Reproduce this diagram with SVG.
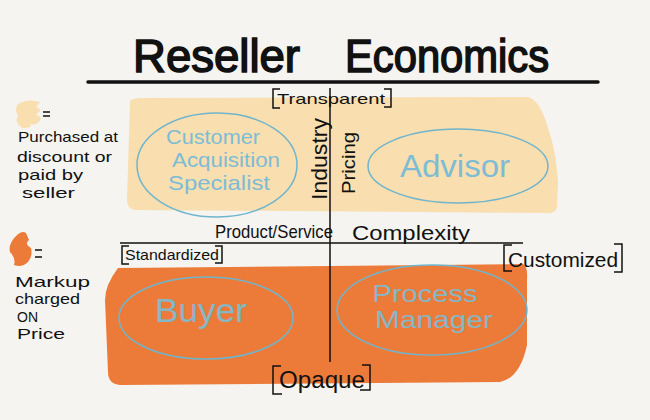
<svg xmlns="http://www.w3.org/2000/svg" width="650" height="420" viewBox="0 0 650 420">
<style>
text{font-family:"Liberation Sans","DejaVu Sans",sans-serif;fill:#111;}
.t{font-size:46px;stroke:#111;stroke-width:1.6;}
.lg{font-size:15px;}
.lbl{font-size:15px;}
.node{fill:none;stroke:#6fb5cd;stroke-width:1.5;}
.nt{fill:#7dbcd5;}
.nto{fill:#86b7c6;}
.br{fill:none;stroke:#111;stroke-width:1.5;}
.ax{fill:none;stroke:#111;stroke-width:1.5;}
</style>
<rect width="650" height="420" fill="#f5f4f0"/>
<g id="title">
<text class="t" x="133" y="72" textLength="167" lengthAdjust="spacingAndGlyphs">Reseller</text>
<text class="t" x="345" y="72" textLength="204" lengthAdjust="spacingAndGlyphs">Economics</text>
<line x1="88" y1="82" x2="598" y2="82" stroke="#111" stroke-width="3.5" stroke-linecap="round"/>
</g>
<g id="zones">
<path d="M130,103 Q128,99 140,98 L528,97 Q540,100 548,128 Q556,150 558,182 L557,207 Q556,214 545,213 L135,210 Q127,209 127,200 Z" fill="#f9deaf"/>
<path d="M118,268 L523,264 Q528,266 527,280 L527,345 Q520,378 500,382 L120,385 Q108,384 108,372 L105,300 Q105,285 118,268 Z" fill="#ec7b3a"/>
</g>
<g id="legend">
<path d="M18,104 Q28,98 40,102 L36,107 Q44,110 36,114 L41,118 Q38,126 30,124 Q34,128 22,128 Q14,122 18,116 Q14,110 18,104 Z" fill="#f9deaf"/>
<line x1="43" y1="112" x2="50" y2="112" stroke="#111" stroke-width="1.5"/>
<line x1="43" y1="116" x2="50" y2="116" stroke="#111" stroke-width="1.5"/>
<text class="lg" x="18" y="142" textLength="100" lengthAdjust="spacingAndGlyphs">Purchased at</text>
<text class="lg" x="17" y="162" textLength="95" lengthAdjust="spacingAndGlyphs">discount or</text>
<text class="lg" x="18" y="180" textLength="65" lengthAdjust="spacingAndGlyphs">paid by</text>
<text class="lg" x="22" y="198" textLength="53" lengthAdjust="spacingAndGlyphs">seller</text>
<path d="M16,236 Q22,230 26,233 L29,240 Q24,244 31,248 Q33,256 28,262 Q22,268 14,265 Q16,258 10,252 Q8,244 16,236 Z" fill="#ec7b3a"/>
<line x1="35" y1="250" x2="42" y2="250" stroke="#111" stroke-width="1.5"/>
<line x1="35" y1="257" x2="42" y2="257" stroke="#111" stroke-width="1.5"/>
<text class="lg" x="15" y="287" textLength="75" lengthAdjust="spacingAndGlyphs">Markup</text>
<text class="lg" x="15" y="304" textLength="65" lengthAdjust="spacingAndGlyphs">charged</text>
<text class="lg" x="17" y="322" textLength="21" lengthAdjust="spacingAndGlyphs">ON</text>
<text class="lg" x="17" y="339" textLength="48" lengthAdjust="spacingAndGlyphs">Price</text>
</g>
<g id="connectors">
<line class="ax" x1="330" y1="88" x2="330" y2="362"/>
<line class="ax" x1="120" y1="243" x2="523" y2="243"/>
</g>
<g id="axis-labels">
<text x="215" y="238" font-size="19" textLength="118" lengthAdjust="spacingAndGlyphs">Product/Service</text>
<text x="352" y="240" font-size="21" textLength="118" lengthAdjust="spacingAndGlyphs">Complexity</text>
<text transform="translate(327,159) rotate(-90)" text-anchor="middle" font-size="22" textLength="82" lengthAdjust="spacingAndGlyphs">Industry</text>
<text transform="translate(355,163) rotate(-90)" text-anchor="middle" font-size="19" textLength="62" lengthAdjust="spacingAndGlyphs">Pricing</text>
</g>
<g id="transparent">
<path class="br" d="M280,89 H273 V108 H280"/>
<path class="br" d="M384,89 H391 V107 H384"/>
<text class="lbl" x="277" y="104" textLength="108" lengthAdjust="spacingAndGlyphs">Transparent</text>
</g>
<g id="standardized">
<path class="br" d="M129,246 H122 V264 H129"/>
<path class="br" d="M215,246 H222 V263 H215"/>
<text class="lbl" x="125" y="260" textLength="94" lengthAdjust="spacingAndGlyphs">Standardized</text>
</g>
<g id="customized">
<path class="br" d="M512,245 H504 V271 H512"/>
<path class="br" d="M614,244 H622 V272 H614"/>
<text x="508" y="267" font-size="20" textLength="110" lengthAdjust="spacingAndGlyphs">Customized</text>
</g>
<g id="opaque">
<path class="br" d="M281,366 H273 V394 H282"/>
<path class="br" d="M362,365 H370 V390 H360"/>
<text x="279" y="388" font-size="23" textLength="86" lengthAdjust="spacingAndGlyphs">Opaque</text>
</g>
<g id="customer-acquisition-specialist">
<ellipse class="node" cx="217" cy="165" rx="80" ry="52"/>
<text class="nt" x="213" y="144" font-size="21" text-anchor="middle" textLength="94" lengthAdjust="spacingAndGlyphs">Customer</text>
<text class="nt" x="226" y="167" font-size="21" text-anchor="middle" textLength="108" lengthAdjust="spacingAndGlyphs">Acquisition</text>
<text class="nt" x="219" y="190" font-size="21" text-anchor="middle" textLength="102" lengthAdjust="spacingAndGlyphs">Specialist</text>
</g>
<g id="advisor">
<ellipse class="node" cx="458" cy="166" rx="90" ry="37"/>
<text class="nt" x="455" y="177" font-size="32" text-anchor="middle" textLength="110" lengthAdjust="spacingAndGlyphs">Advisor</text>
</g>
<g id="buyer">
<ellipse class="node" cx="206" cy="318" rx="87" ry="41"/>
<text class="nto" x="201" y="322" font-size="34" text-anchor="middle" textLength="92" lengthAdjust="spacingAndGlyphs">Buyer</text>
</g>
<g id="process-manager">
<ellipse class="node" cx="432" cy="310" rx="95" ry="45"/>
<text class="nto" x="425" y="302" font-size="23" text-anchor="middle" textLength="105" lengthAdjust="spacingAndGlyphs">Process</text>
<text class="nto" x="434" y="328" font-size="23" text-anchor="middle" textLength="118" lengthAdjust="spacingAndGlyphs">Manager</text>
</g>
</svg>
